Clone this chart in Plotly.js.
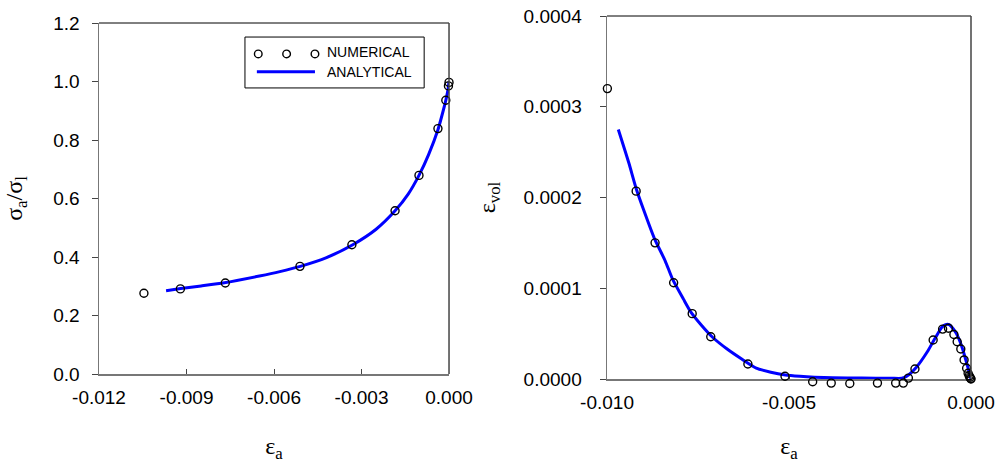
<!DOCTYPE html>
<html>
<head>
<meta charset="utf-8">
<script src="https://cdn.plot.ly/plotly-3.0.1.min.js"></script>
<style>
  html, body { margin: 0; padding: 0; background: #fff; }
  #chart { width: 1001px; height: 463px; }
</style>
</head>
<body>
<div id="chart"></div>
<script>
// Normalised stress vs axial strain (left panel)
const stressNumX = [-0.01046, -0.00921, -0.00767, -0.00511, -0.00333, -0.00185, -0.00103, -0.00038, -0.00011, -0.00002, 0];
const stressNumY = [0.276, 0.291, 0.311, 0.368, 0.442, 0.558, 0.679, 0.839, 0.936, 0.985, 0.997];
const stressAnaX = [-0.0097, -0.0092, -0.0085, -0.0077, -0.0065, -0.0058, -0.0051, -0.0042, -0.0033, -0.0025, -0.00185, -0.0014, -0.00103, -0.0007, -0.00038, -0.0002, -0.0001, -0.00003, 0];
const stressAnaY = [0.285, 0.292, 0.301, 0.312, 0.335, 0.350, 0.368, 0.398, 0.442, 0.495, 0.558, 0.615, 0.679, 0.750, 0.835, 0.900, 0.940, 0.975, 1.000];

// Volumetric strain vs axial strain (right panel)
const volNumX = [-0.00999, -0.00920, -0.00868, -0.00817, -0.00766, -0.00715, -0.00613, -0.00511, -0.00435, -0.00384, -0.00333, -0.00257, -0.00207, -0.00186, -0.00172, -0.00154, -0.00104, -0.00078, -0.00062, -0.00047, -0.00038, -0.00028, -0.00019, -0.00012, -0.00008, -0.00005, -0.00003, -0.00001, 0];
const volNumY = [0.000320, 0.000207, 0.000150, 0.000106, 0.0000720, 0.0000466, 0.0000165, 0.0000030, -0.0000030, -0.0000045, -0.0000050, -0.0000045, -0.0000045, -0.0000045, 0.0000010, 0.0000110, 0.0000430, 0.0000550, 0.0000560, 0.0000490, 0.0000410, 0.0000330, 0.0000210, 0.0000118, 0.0000063, 0.0000035, 0.0000019, 0.0000006, 0];
const volAnaX = [-0.00969, -0.0094, -0.0092, -0.0090, -0.0087, -0.0084, -0.0082, -0.0079, -0.0077, -0.0074, -0.0071, -0.0067, -0.0063, -0.0059, -0.0055, -0.0051, -0.0047, -0.0043, -0.0038, -0.0030, -0.0022, -0.0019, -0.0017, -0.0015, -0.0012, -0.0010, -0.0008, -0.0007, -0.0006, -0.0005, -0.0004, -0.0003, -0.0002, -0.0001, 0];
const volAnaY = [0.000275, 0.000238, 0.000210, 0.000187, 0.000155, 0.000130, 0.000110, 0.0000880, 0.0000740, 0.0000590, 0.0000460, 0.0000330, 0.0000220, 0.0000120, 0.0000075, 0.0000045, 0.0000030, 0.0000020, 0.0000013, 0.0000010, 0.0000008, 0.0000008, 0.0000050, 0.0000130, 0.0000300, 0.0000440, 0.0000570, 0.0000600, 0.0000600, 0.0000560, 0.0000500, 0.0000410, 0.0000290, 0.0000150, 0];

// Tick positions and labels
const stressXTicks = [-0.012, -0.009, -0.006, -0.003, 0];
const stressXLabels = ['-0.012', '-0.009', '-0.006', '-0.003', '0.000'];
const stressYTicks = [0, 0.2, 0.4, 0.6, 0.8, 1.0, 1.2];
const stressYLabels = ['0.0', '0.2', '0.4', '0.6', '0.8', '1.0', '1.2'];
const volXTicks = [-0.010, -0.005, 0];
const volXLabels = ['-0.010', '-0.005', '0.000'];
const volYTicks = [0, 0.0001, 0.0002, 0.0003, 0.0004];
const volYLabels = ['0.0000', '0.0001', '0.0002', '0.0003', '0.0004'];

const legendNames = ['NUMERICAL', 'ANALYTICAL'];

const sansFont = 'Liberation Sans, Arial, sans-serif';
const serifFont = 'Liberation Serif, Times New Roman, serif';
const lineBlue = '#0000ff';

const circleMarker = { symbol: 'circle-open', size: 8, color: '#000', line: { width: 1.4, color: '#000' } };

// Right-panel y range, plus a hidden twin axis on the same scale that
// reaches a little below zero so slightly negative points stay visible.
const volRange = [0, 0.0004];
const volTwinRange = [-0.00001653, 0.0004];

const traces = [
  { x: stressAnaX, y: stressAnaY, xaxis: 'x', yaxis: 'y', mode: 'lines', name: legendNames[1],
    line: { color: lineBlue, width: 3, shape: 'spline', smoothing: 0.6 }, showlegend: false },
  { x: stressNumX, y: stressNumY, xaxis: 'x', yaxis: 'y', mode: 'markers', name: legendNames[0],
    marker: circleMarker, cliponaxis: false, showlegend: false },
  { x: volAnaX, y: volAnaY, xaxis: 'x2', yaxis: 'y2', mode: 'lines', name: legendNames[1],
    line: { color: lineBlue, width: 3, shape: 'spline', smoothing: 0.6 }, showlegend: false },
  { x: volNumX, y: volNumY, xaxis: 'x2', yaxis: 'y3', mode: 'markers', name: legendNames[0],
    marker: circleMarker, cliponaxis: false, showlegend: false }
];

function xAxis(domain, range, vals, labels, anchor) {
  return {
    domain: domain, range: range, anchor: anchor,
    tickmode: 'array', tickvals: vals, ticktext: labels,
    ticks: 'inside', ticklen: 5, tickwidth: 1, tickcolor: '#444',
    showline: true, linecolor: '#777', linewidth: 1.5,
    showgrid: false, zeroline: false,
    tickfont: { family: sansFont, size: 19, color: '#000' },
    ticklabelstandoff: 6,
    title: { text: 'ε<sub>a</sub>', font: { family: serifFont, size: 24, color: '#000' }, standoff: 33 }
  };
}
function yAxis(domain, range, vals, labels, anchor, title, standoff, labelGap) {
  return {
    domain: domain, range: range, anchor: anchor,
    tickmode: 'array', tickvals: vals, ticktext: labels,
    ticks: 'outside', ticklen: 6, tickwidth: 1, tickcolor: '#444',
    showline: true, linecolor: '#777', linewidth: 1.5,
    showgrid: false, zeroline: false,
    tickfont: { family: sansFont, size: 19, color: '#000' },
    ticklabelstandoff: labelGap,
    title: { text: title, font: { family: serifFont, size: 24, color: '#000' }, standoff: standoff }
  };
}

// Frame lines (top and right) and a hand-drawn key inside the left panel
const shapes = [
  { type: 'line', xref: 'x domain', yref: 'y domain', x0: 0, x1: 1, y0: 1, y1: 1, line: { color: '#000', width: 1 } },
  { type: 'line', xref: 'x domain', yref: 'y domain', x0: 1, x1: 1, y0: 0, y1: 1, line: { color: '#444', width: 1.5 } },
  { type: 'line', xref: 'x2 domain', yref: 'y2 domain', x0: 0, x1: 1, y0: 1, y1: 1, line: { color: '#000', width: 1 } },
  { type: 'line', xref: 'x2 domain', yref: 'y2 domain', x0: 1, x1: 1, y0: 0, y1: 1, line: { color: '#444', width: 1.5 } },
  { type: 'rect', xref: 'x domain', yref: 'y domain', x0: 0.417, x1: 0.929, y0: 0.815, y1: 0.960,
    line: { color: '#000', width: 1 }, fillcolor: 'rgba(0,0,0,0)' },
  { type: 'line', xref: 'x domain', yref: 'y domain', x0: 0.451, x1: 0.617, y0: 0.861, y1: 0.861,
    line: { color: lineBlue, width: 3 } }
];
[0.455, 0.536, 0.617].forEach(function (cx) {
  shapes.push({ type: 'circle', xref: 'x domain', yref: 'y domain',
    xsizemode: 'pixel', ysizemode: 'pixel', xanchor: cx, yanchor: 0.912,
    x0: -3.8, x1: 3.8, y0: -3.8, y1: 3.8, line: { color: '#000', width: 1.4 } });
});

const annotations = [
  { xref: 'x domain', yref: 'y domain', x: 0.645, y: 0.917, xanchor: 'left', yanchor: 'middle',
    text: legendNames[0], showarrow: false, font: { family: sansFont, size: 14, color: '#000' } },
  { xref: 'x domain', yref: 'y domain', x: 0.645, y: 0.860, xanchor: 'left', yanchor: 'middle',
    text: legendNames[1], showarrow: false, font: { family: sansFont, size: 14, color: '#000' } }
];

const layout = {
  width: 1001, height: 463,
  margin: { l: 99, r: 30, t: 16, b: 60 },
  paper_bgcolor: '#fff', plot_bgcolor: 'rgba(0,0,0,0)',
  showlegend: false,
  xaxis: xAxis([0, 0.4014], [-0.012, 0], stressXTicks, stressXLabels, 'y'),
  yaxis: yAxis([0.0749, 0.9819], [0, 1.2], stressYTicks, stressYLabels, 'x', 'σ<sub>a</sub>/σ<sub>l</sub>', 24, 8),
  xaxis2: xAxis([0.5826, 1], [-0.010, 0], volXTicks, volXLabels, 'y2'),
  yaxis2: yAxis([0.0620, 1], volRange, volYTicks, volYLabels, 'x2', 'ε<sub>vol</sub>', 21, 14),
  yaxis3: { domain: [0.02326, 1], range: volTwinRange, anchor: 'x2', visible: false,
            showgrid: false, zeroline: false },
  shapes: shapes,
  annotations: annotations
};

Plotly.newPlot('chart', traces, layout, { displayModeBar: false, staticPlot: true });
</script>
</body>
</html>
